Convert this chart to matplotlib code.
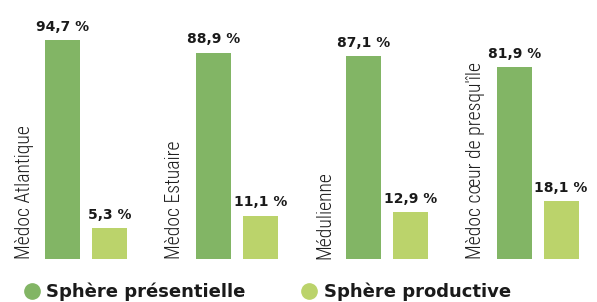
import matplotlib.pyplot as plt
import numpy as np

# données
territoires = ['Mèdoc Atlantique', 'Mèdoc Estuaire', 'Médulienne', 'Mèdoc cœur de presqu\'île']
presentielle = [94.7, 88.9, 87.1, 81.9]
productive = [5.3, 11.1, 12.9, 18.1]
series = ['Sphère présentielle', 'Sphère productive']
couleurs = ['#82b565', '#bbd36b']

fig = plt.figure(figsize=(5.97, 3.02), dpi=100)
ax = fig.add_axes([0, 0.143, 1, 0.76])

# les barres du visuel d'origine partent d'un peu sous zéro
base = -9.5

x = np.arange(len(territoires))
w = 0.233
off = 0.156

b1 = ax.bar(x - off, np.array(presentielle) - base, w, bottom=base, color=couleurs[0])
b2 = ax.bar(x + off, np.array(productive) - base, w, bottom=base, color=couleurs[1])

for bars, vals in [(b1, presentielle), (b2, productive)]:
    for r, v in zip(bars, vals):
        ax.annotate(f'{v:.1f} %'.replace('.', ','),
                    (r.get_x() + r.get_width() / 2, v), xytext=(0, 4.5),
                    textcoords='offset points', ha='center', va='bottom',
                    fontsize=10, fontweight='bold', color='#1a1a1a')

for xi, t in zip(x, territoires):
    ax.text(xi - 0.412, base, t, rotation=90, ha='center', va='bottom',
            fontsize=14.2, fontweight=300,
            family=['Roboto Condensed', 'DejaVu Sans'], color='#1e1e1e')

ax.set_xlim(-0.573, 3.394)
ax.set_ylim(base, 100)
ax.axis('off')

# légende
h = [plt.Line2D([], [], marker='o', ls='', ms=11, color=c) for c in couleurs]
fig.legend(h, series, loc='center left', bbox_to_anchor=(0.0377, 0.034), ncol=2,
           frameon=False, handlelength=1.0, handletextpad=0.3, columnspacing=3.05,
           borderpad=0, borderaxespad=0,
           prop={'weight': 'bold', 'size': 13})
for t in fig.legends[0].get_texts():
    t.set_color('#1a1a1a')

fig.savefig('out.png', dpi=100)
